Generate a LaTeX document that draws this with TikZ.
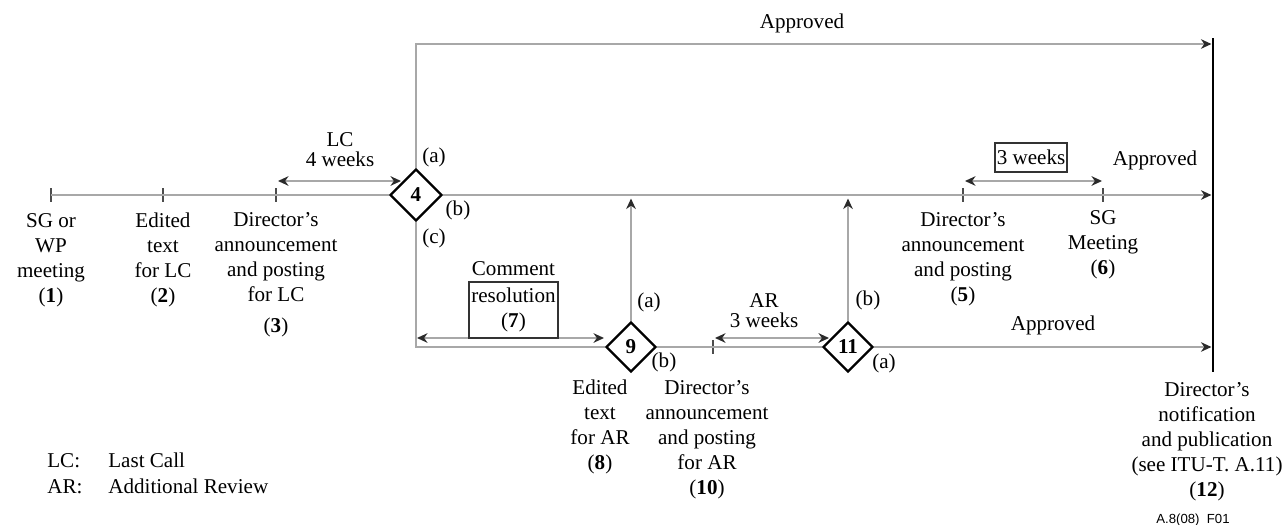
\documentclass[tikz,border=0pt]{standalone}
\usepackage{fontspec}
\setmainfont{Liberation Serif}
\newfontfamily\figidfont{Liberation Sans}
\usetikzlibrary{arrows.meta,shapes.geometric}
\definecolor{lineGrey}{HTML}{A8A8A8}
\definecolor{tipGrey}{HTML}{2A2A2A}
\tikzset{stage text/.style={align=center, anchor=base, inner sep=0pt}}
\tikzset{
	branch label/.style={anchor=base, inner sep=0pt},
	key text/.style={anchor=base west, inner sep=0pt},
	decision/.style={diamond, draw=black, line width=1.3pt, minimum width=1cm,
		minimum height=1cm, inner sep=0pt, font=\fontsize{12}{14.2}\selectfont\bfseries},
	box/.style={draw=black!80, line width=1.2pt, align=center, inner sep=1pt},
	flow/.style={draw=lineGrey, line width=0.8pt},
	flow arrow/.style={flow, -{Stealth[length=6pt,width=5.5pt,color=tipGrey]}},
	span arrow/.style={flow, {Stealth[length=6pt,width=5.5pt,color=tipGrey]}-{Stealth[length=6pt,width=5.5pt,color=tipGrey]}},
	tick mark/.style={draw=black!70, line width=0.8pt}
}

\begin{document}
\begin{tikzpicture}[x=0.02cm, y=-0.02cm, font=\fontsize{12}{14.2}\selectfont]
	\useasboundingbox (0,0) rectangle (1287,524);
	\coordinate (p_1) at (51,195);
	\coordinate (p_2) at (163,195);
	\coordinate (p_3) at (276,195);
	\coordinate (p_5) at (963,195);
	\coordinate (p_6) at (1103,195);
	\coordinate (p_10) at (713,347);
	\coordinate (top) at (416,44);
	\coordinate (bot) at (416,347);
	\foreach \p in {p_1,p_2,p_3,p_5,p_6,p_10}
		\draw[tick mark] (\p) ++(0,-7) -- ++(0,14);
	\node[decision, minimum width=1.04cm, minimum height=1.04cm] at (416,195) (d_4) {4};
	\node[decision] at (631,347) (d_9) {9};
	\node[decision] at (848,347) (d_11) {11};
	\node[fill=black, inner sep=0pt, minimum width=1.4pt, minimum height=6.68cm] at (1213,205) (pub) {};
	\path (p_1) edge[flow] (d_4);
	\draw[flow arrow] (d_4) -- (d_4 -| pub.west);
	\draw[flow arrow] (d_4) -- (top) -- (top -| pub.west);
	\draw[flow] (d_4) -- (bot) -- (d_9);
	\path (d_9) edge[flow] (d_11);
	\draw[flow arrow] (d_11) -- (d_11 -| pub.west);
	\draw[flow arrow, shorten >=2pt] (d_9) -- (d_9 |- d_4);
	\draw[flow arrow, shorten >=2pt] (d_11) -- (d_11 |- d_4);
	% durations
	\coordinate (lc_a) at (278,181);
	\coordinate (lc_b) at (401,181);
	\coordinate (cr_a) at (417,338);
	\coordinate (cr_b) at (604,338);
	\coordinate (ar_a) at (715,338);
	\coordinate (ar_b) at (829,338);
	\coordinate (wk_a) at (965,181);
	\coordinate (wk_b) at (1102,181);
	\path (lc_a) edge[span arrow] (lc_b);
	\path (cr_a) edge[span arrow] (cr_b);
	\path (ar_a) edge[span arrow] (ar_b);
	\path (wk_a) edge[span arrow] (wk_b);
	\node[box, minimum width=1.78cm, minimum height=1.12cm,
		label={[inner sep=0pt, label distance=0.1cm]above:Comment}] at (513.5,310) (cr) {resolution\\(\textbf{7})};
	\node[box, minimum width=1.44cm, minimum height=0.58cm] at (1031,157.5) (wk) {3 weeks};
	\node[stage text] at (340,166) (lc_span) {LC\\[-3pt]4 weeks};
	\node[stage text] at (764,327) (ar_span) {AR\\[-3pt]3 weeks};
	\node[branch label] at (802,29) (ok_top) {Approved};
	\node[branch label] at (1155,165) (ok_mid) {Approved};
	\node[branch label] at (1053,330) (ok_bot) {Approved};
	\node[branch label] at (434,162) (d_4a) {(a)};
	\node[branch label] at (458,215) (d_4b) {(b)};
	\node[branch label] at (434,243) (d_4c) {(c)};
	\node[branch label] at (649,307) (d_9a) {(a)};
	\node[branch label] at (664,367) (d_9b) {(b)};
	\node[branch label] at (868,305) (d_11b) {(b)};
	\node[branch label] at (884,368) (d_11a) {(a)};
	% the base anchor of these sits on the last line
	\node[stage text] at (51,302) (s_1) {SG or\\WP\\meeting\\(\textbf{1})};
	\node[stage text] at (163,302) (s_2) {Edited\\text\\for LC\\(\textbf{2})};
	\node[stage text] at (276,332) (s_3) {Director's\\announcement\\and posting\\for LC\\[3pt](\textbf{3})};
	\node[stage text] at (963,301) (s_5) {Director's\\announcement\\and posting\\(\textbf{5})};
	\node[stage text] at (1103,274) (s_6) {SG\\Meeting\\(\textbf{6})};
	\node[stage text] at (600,469) (s_8) {Edited\\text\\for AR\\(\textbf{8})};
	\node[stage text] at (707,494) (s_10) {Director's\\announcement\\and posting\\for AR\\(\textbf{10})};
	\node[stage text] at (1207,496) (s_12) {Director's\\notification\\and publication\\(see ITU-T. A.11)\\(\textbf{12})};
	\node[key text] at (47,467) (lc_key) {LC:};
	\node[key text] at (108,467) (lc_def) {Last Call};
	\node[key text] at (47,493) (ar_key) {AR:};
	\node[key text] at (108,493) (ar_def) {Additional Review};
	\node[branch label, font=\figidfont\fontsize{7.5}{9}\selectfont] at (1193,523) (fig_id) {A.8(08)\ \ F01};
\end{tikzpicture}
\end{document}
